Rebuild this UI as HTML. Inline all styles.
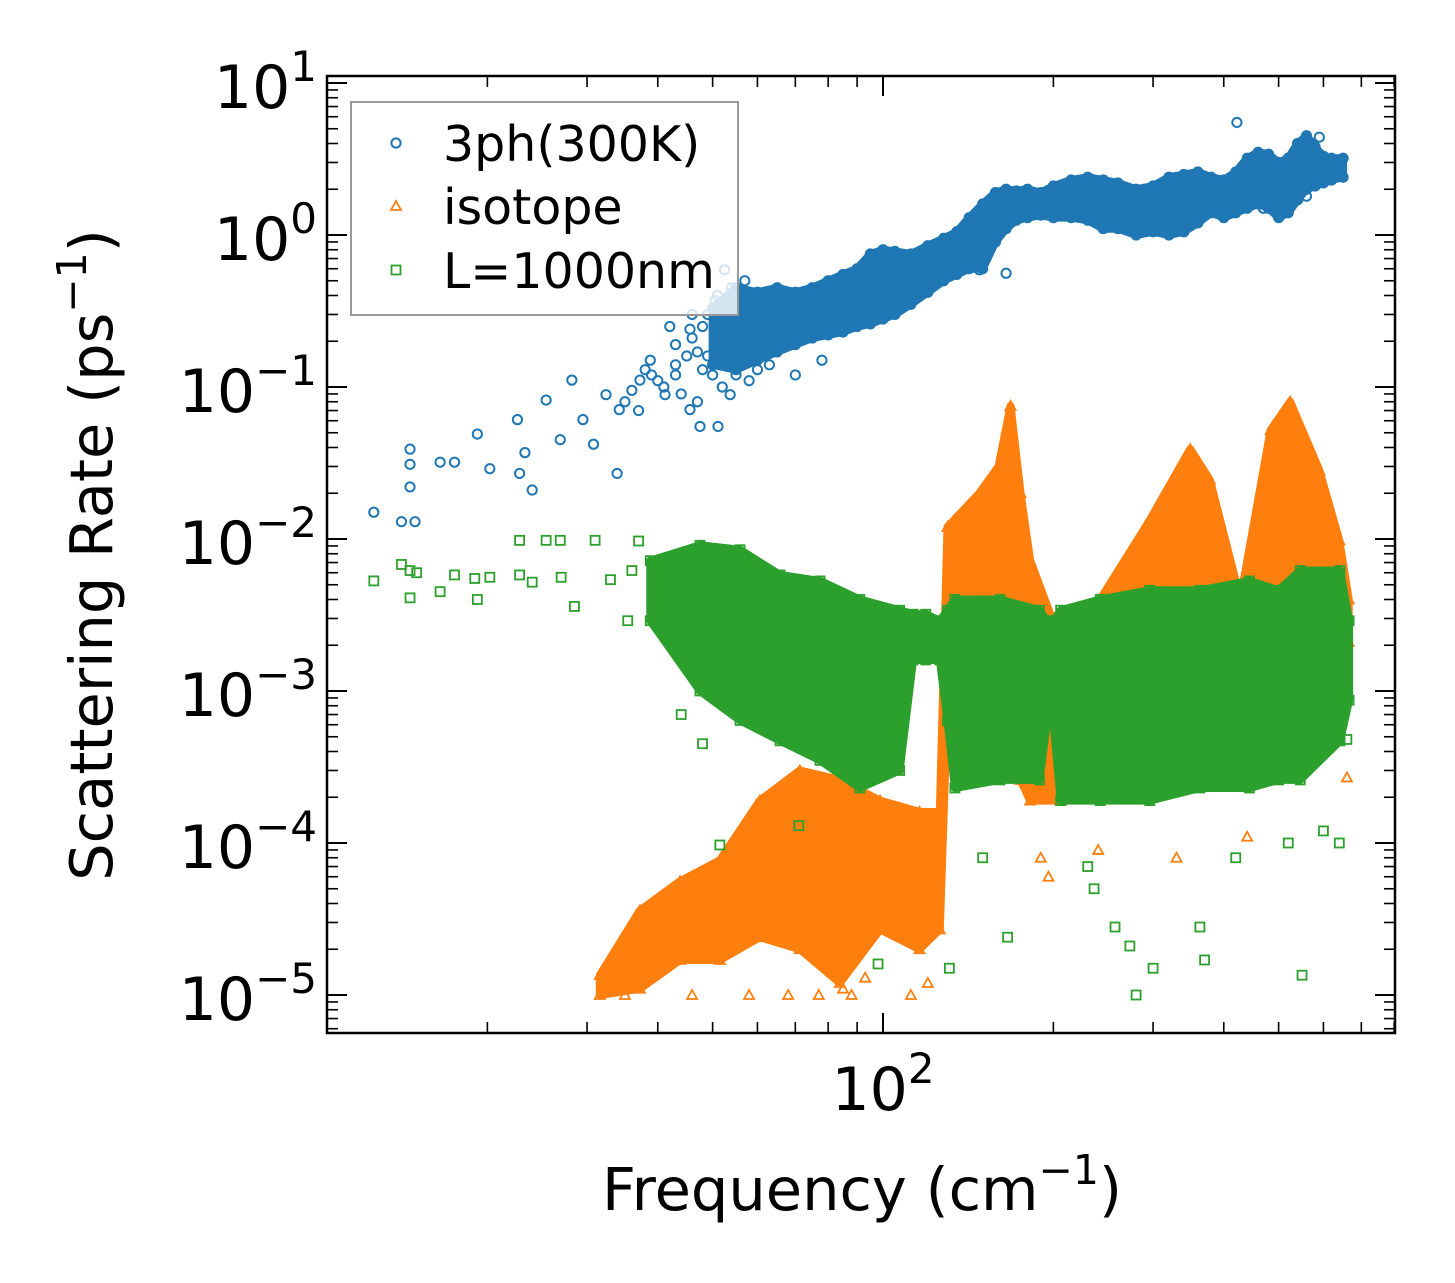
<!DOCTYPE html>
<html><head><meta charset="utf-8"><style>
html,body{margin:0;padding:0;background:#fff}
svg{display:block;font-family:"DejaVu Sans","Liberation Sans",sans-serif}
</style></head><body>
<svg id="chart" width="1455" height="1283" viewBox="0 0 1455 1283">
<g id="bands"></g><g id="marks"></g><g id="axes"></g><g id="legend"></g>
</svg>
<script>
// ---- data (frequency cm^-1, rate ps^-1) ----
const blueBandF  = [50,55,60,65,70,75,80,85,90,95,100,105,112,120,128,135,142,150,158,165,172,180,190,200,215,230,245,260,280,300,320,340,360,380,400,420,440,460,480,500,520,540,560,580,600,620,650];
const blueBandHi = [0.33,0.45,0.42,0.45,0.42,0.45,0.5,0.55,0.6,0.75,0.8,0.78,0.75,0.85,0.95,1.05,1.3,1.6,1.9,2.0,1.95,2.0,1.9,2.1,2.3,2.4,2.3,2.2,2.0,2.1,2.4,2.5,2.6,2.4,2.3,2.6,3.2,3.5,3.4,3.0,3.2,4.0,4.5,3.8,3.3,3.2,3.2];
const blueBandLo = [0.14,0.13,0.15,0.17,0.19,0.21,0.22,0.23,0.25,0.26,0.28,0.30,0.35,0.42,0.5,0.55,0.6,0.6,0.9,1.1,1.25,1.3,1.35,1.3,1.3,1.25,1.1,1.1,1.0,1.05,1.0,1.05,1.2,1.4,1.3,1.4,1.5,1.6,1.5,1.3,1.4,1.7,2.0,2.1,2.2,2.3,2.4];
const blueF = [12.6,14.1,14.6,14.6,14.6,14.9,16.5,17.5,19.2,20.2,22.6,22.8,23.3,25.4,24.0,26.9,28.2,29.5,30.8,32.4,33.9,34.2,37.2,38.8,41.2,43.0,45.6,45.6,47.5,50.5,51.1,53.7,52.5,148,165,422,38,40,42,43,45,46,48,49,50,52,44,47,41,39,36,35,37,43,47,49,53,55,58,60,54,57,51,48,46,63,70,78,450,470,560,590];
const blueV = [0.015,0.013,0.039,0.031,0.022,0.013,0.032,0.032,0.049,0.029,0.061,0.027,0.037,0.082,0.021,0.045,0.111,0.061,0.042,0.089,0.027,0.071,0.111,0.15,0.089,0.19,0.24,0.071,0.055,0.37,0.055,0.089,0.59,0.59,0.56,5.5,0.13,0.11,0.25,0.14,0.16,0.21,0.13,0.16,0.12,0.1,0.09,0.08,0.1,0.12,0.095,0.08,0.07,0.12,0.17,0.3,0.2,0.12,0.11,0.13,0.45,0.5,0.4,0.25,0.3,0.14,0.12,0.15,2.2,1.5,1.8,4.4];

const orangeBandF  = [31.6,37.2,43.8,51.5,60.6,71.3,83.9,98.8,116,126,130,148,160,168,175,182,206,242,296,349,378,428,484,524,590,640,665];
const orangeBandHi = [1.35e-5,3.6e-5,5.6e-5,7.7e-5,1.9e-4,3.0e-4,2.6e-4,1.9e-4,1.6e-4,1.6e-4,0.012,0.02,0.03,0.075,0.02,0.0072,0.0021,0.004,0.0133,0.039,0.0245,0.004,0.052,0.08,0.0283,0.0098,0.004];
const orangeBandLo = [1.0e-5,1.1e-5,1.7e-5,1.7e-5,2.4e-5,2.0e-5,1.2e-5,2.7e-5,2.0e-5,2.7e-5,8.7e-4,3.5e-4,4.0e-4,6.4e-4,2.6e-4,1.9e-4,1.9e-4,3.5e-4,4.7e-4,6.4e-4,8.7e-4,3.5e-4,6.4e-4,6.4e-4,6.4e-4,1.6e-3,2.1e-3];
const orangeF = [35,46,58,68,77,88,112,120,124,190,196,240,330,440,660,93,85];
const orangeV = [1.0e-5,1.0e-5,1.0e-5,1.0e-5,1.0e-5,1.0e-5,1.0e-5,1.2e-5,3e-5,8e-5,6e-5,9e-5,8e-5,1.1e-4,2.7e-4,1.3e-5,1.1e-5];

const greenBandF  = [38.8,47.5,55.9,65.8,77.4,91,107,113,119,126,130,134,161,189,195,200,206,242,296,363,444,500,546,642,666];
const greenBandHi = [0.0072,0.0091,0.0085,0.0058,0.0053,0.004,0.0034,0.0032,0.0032,0.0029,0.0034,0.004,0.004,0.0034,0.0029,0.0029,0.0034,0.004,0.0046,0.0046,0.0053,0.0046,0.0062,0.0062,0.0029];
const greenBandLo = [0.0029,0.001,6.4e-4,4.7e-4,3.5e-4,2.3e-4,3.0e-4,0.0016,0.0016,0.0016,6.4e-4,2.3e-4,2.6e-4,2.6e-4,6.4e-4,6.4e-4,1.9e-4,1.9e-4,1.9e-4,2.3e-4,2.3e-4,2.6e-4,2.6e-4,4.7e-4,8.7e-4];
const greenF = [12.6,14.1,14.6,14.6,15,16.5,17.5,19.2,20.2,22.8,22.8,25.4,26.9,28.5,31,35.4,37,51.5,71,131,166,257,273,280,300,363,370,550,236,520,640,660,44,48,98,150,230,420,600,19,24,27,33,36];
const greenV = [0.0053,0.0068,0.0062,0.0041,0.006,0.0045,0.0058,0.004,0.0056,0.0098,0.0058,0.0098,0.0098,0.0036,0.0098,0.0029,0.0097,9.7e-5,1.3e-4,1.5e-5,2.4e-5,2.8e-5,2.1e-5,1.0e-5,1.5e-5,2.8e-5,1.7e-5,1.35e-5,5e-5,1e-4,1e-4,4.8e-4,7e-4,4.5e-4,1.6e-5,8e-5,7e-5,8e-5,1.2e-4,0.0055,0.0052,0.0056,0.0054,0.0062];

const yTickExp = [1,0,-1,-2,-3,-4,-5];
const xMajor = [100];
const xMinor = [20,30,40,50,60,70,80,90,200,300,400,500,600,700,800];

// ---- axes ----
const L=327,R=1395,T=76,B=1033;
const X=f=>883+566*Math.log10(f/100);
const Y=v=>235-152*Math.log10(v);
const NS='http://www.w3.org/2000/svg';
function mk(tag,parent,attrs){const e=document.createElementNS(NS,tag);for(const k in attrs)e.setAttribute(k,attrs[k]);parent.appendChild(e);return e;}
const bands=document.getElementById('bands'),marks=document.getElementById('marks'),axes=document.getElementById('axes'),leg=document.getElementById('legend');

function band(F,Hi,Lo,color,name,parent){
  let pts=F.map((f,i)=>X(f)+','+Y(Hi[i]));
  for(let i=F.length-1;i>=0;i--)pts.push(X(F[i])+','+Y(Lo[i]));
  const p=mk('polygon',parent,{points:pts.join(' '),fill:color,stroke:color,'stroke-width':8,'stroke-linejoin':'round'});
  
  
}
function marker(kind,x,y,color,parent){
  let e;
  if(kind==='c')e=mk('circle',parent,{cx:x,cy:y,r:4.6,fill:'none',stroke:color,'stroke-width':2});
  else if(kind==='t')e=mk('polygon',parent,{points:`${x},${y-5} ${x+5},${y+4} ${x-5},${y+4}`,fill:'none',stroke:color,'stroke-width':1.8});
  else e=mk('rect',parent,{x:x-4.5,y:y-4.5,width:9,height:9,fill:'none',stroke:color,'stroke-width':1.8});
  return e;
}
function series(kind,F,V,BF,BH,BL,color,name){
  const g=mk('g',marks,{});
  
  
  band(BF,BH,BL,color,name+'-dense-band',g);
  F.forEach((f,i)=>{const e=marker(kind,X(f),Y(V[i]),color,g);
    
    });
  BF.forEach((f,i)=>{[BH[i],BL[i]].forEach(v=>{const e=marker(kind,X(f),Y(v),color,g);
    
    });});
}
series('c',blueF,blueV,blueBandF,blueBandHi,blueBandLo,'#1f77b4','3ph');
series('t',orangeF,orangeV,orangeBandF,orangeBandHi,orangeBandLo,'#ff7f0e','isotope');
series('s',greenF,greenV,greenBandF,greenBandHi,greenBandLo,'#2ca02c','boundary');

// frame
const fr=mk('rect',axes,{x:L,y:T,width:R-L,height:B-T,fill:'none',stroke:'#000','stroke-width':2.5});


// y ticks
yTickExp.forEach(e=>{
  const y=Y(Math.pow(10,e));
  mk('line',axes,{x1:L,x2:L+20,y1:y,y2:y,stroke:'#000','stroke-width':2});
  mk('line',axes,{x1:R,x2:R-20,y1:y,y2:y,stroke:'#000','stroke-width':2});
  const t=mk('text',axes,{x:317,y:y+25,'text-anchor':'end','font-size':60});
  t.innerHTML='10<tspan dy="-27" font-size="42">'+(e<0?'\u2212'+(-e):e)+'</tspan>';
  
  
});
for(let e=-6;e<=1;e++)for(let m=2;m<=9;m++){
  const y=Y(m*Math.pow(10,e)); if(y<T||y>B)continue;
  mk('line',axes,{x1:L,x2:L+11,y1:y,y2:y,stroke:'#000','stroke-width':1.6});
  mk('line',axes,{x1:R,x2:R-11,y1:y,y2:y,stroke:'#000','stroke-width':1.6});
}
xMajor.forEach(f=>{
  const x=X(f);
  mk('line',axes,{x1:x,x2:x,y1:B,y2:B-20,stroke:'#000','stroke-width':2});
  mk('line',axes,{x1:x,x2:x,y1:T,y2:T+20,stroke:'#000','stroke-width':2});
  const t=mk('text',axes,{x:x,y:1110,'text-anchor':'middle','font-size':60});
  t.innerHTML='10<tspan dy="-27" font-size="42">2</tspan>';
  
  
});
xMinor.forEach(f=>{
  const x=X(f); if(x<L||x>R)return;
  mk('line',axes,{x1:x,x2:x,y1:B,y2:B-11,stroke:'#000','stroke-width':1.6});
  mk('line',axes,{x1:x,x2:x,y1:T,y2:T+11,stroke:'#000','stroke-width':1.6});
});
const xt=mk('text',axes,{x:862,y:1210,'text-anchor':'middle','font-size':59});
xt.innerHTML='Frequency (cm<tspan dy="-26" font-size="41">\u22121</tspan><tspan dy="26">)</tspan>';


const yt=mk('text',axes,{x:0,y:0,'text-anchor':'middle','font-size':59,transform:'translate(112,555) rotate(-90)'});
yt.innerHTML='Scattering Rate (ps<tspan dy="-26" font-size="41">\u22121</tspan><tspan dy="26">)</tspan>';



// legend
const lb=mk('rect',leg,{x:351,y:102,width:387,height:213,fill:'#fff','fill-opacity':0.8,stroke:'#999','stroke-width':2});


[['c','#1f77b4','3ph(300K)',143],['t','#ff7f0e','isotope',206],['s','#2ca02c','L=1000nm',270]].forEach(([k,c,txt,y])=>{
  const g=mk('g',leg,{});
  
  
  marker(k,396,y,c,g);
  const t=mk('text',g,{x:443,y:y+18,'font-size':49});
  t.textContent=txt;
});
</script>
</body></html>
